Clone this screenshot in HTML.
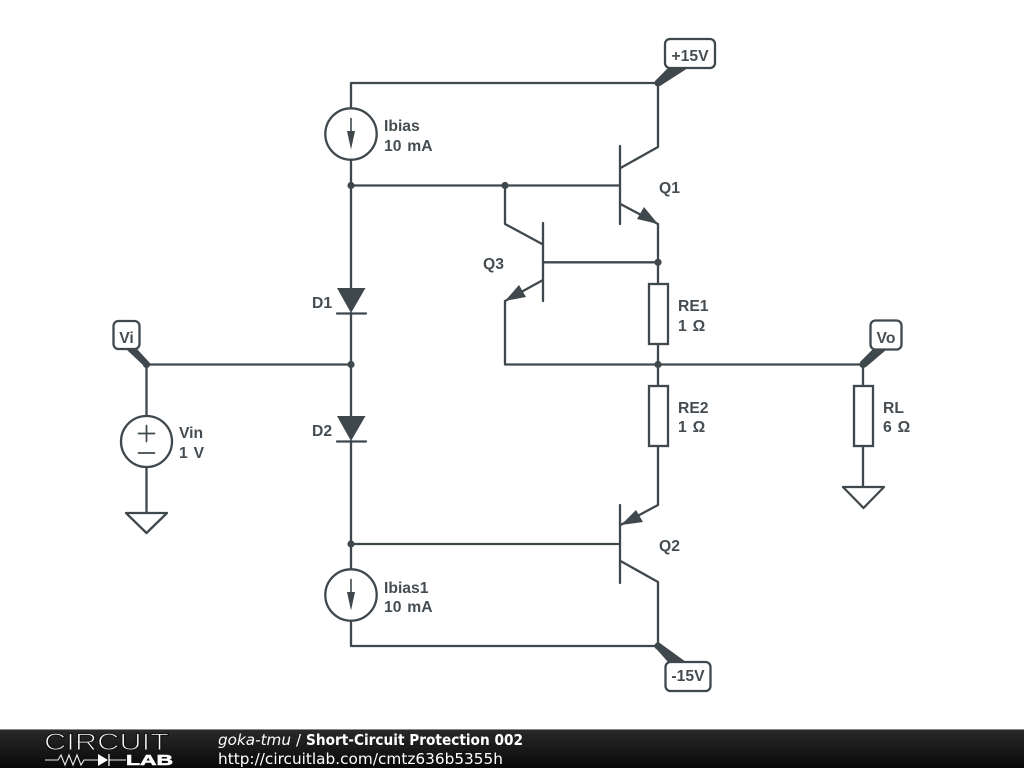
<!DOCTYPE html>
<html>
<head>
<meta charset="utf-8">
<style>
html,body{margin:0;padding:0;background:#fff;width:1024px;height:768px;overflow:hidden}
svg{display:block;position:absolute;left:0;top:0}
.w{fill:none;stroke:#3f484d;stroke-width:2.3;stroke-linecap:round;stroke-linejoin:round}
.f{fill:#3f484d;stroke:none}
.t{font-family:"Liberation Sans",sans-serif;font-size:15.7px;font-weight:bold;fill:#454d52;word-spacing:1.5px}
.c{text-anchor:middle}
.b{fill:#fff;stroke:#3f484d;stroke-width:2.3}
.d{font-family:"DejaVu Sans",sans-serif;font-size:15px;fill:#fff}
</style>
</head>
<body>
<svg width="1024" height="768" viewBox="0 0 1024 768" xmlns="http://www.w3.org/2000/svg">
<defs>
<linearGradient id="g" x1="0" y1="0" x2="0" y2="1"><stop offset="0" stop-color="#2a2a2a"/><stop offset="1" stop-color="#080808"/></linearGradient>
</defs>
<rect width="1024" height="768" fill="#fff"/>

<!-- wires -->
<path class="w" d="M351 83H658M351 83V108M351 160V288M351 313V416M351 441V569M351 621V646H658"/>
<path class="w" d="M351 185.500H620M505 185.500V224L543 244.500M543 262.300H658"/>
<path class="w" d="M658 83V147L620.500 168M620.500 204L658 224V284M658 344V386M658 446V505L620.500 525M620.500 561L658 582V646"/>
<path class="w" d="M620 544H351"/>
<path class="w" d="M543 280L505 301V364.500H863M146.500 364.500H351"/>
<path class="w" d="M146.500 364.500V416M146.500 467V513"/>
<path class="w" d="M863 364.500V386M863 446V487"/>

<!-- transistor bars -->
<path class="w" d="M620 146V224M543 223V301M620 505V583"/>
<!-- transistor arrows -->
<polygon class="f" points="658,224 637,219 644,207"/>
<polygon class="f" points="505,301 519,285 526,297"/>
<polygon class="f" points="621,525 636,510 643,522"/>

<!-- dots -->
<g class="f">
<circle cx="351" cy="185.500" r="3.600"/><circle cx="505" cy="185.500" r="3.600"/><circle cx="658" cy="262.300" r="3.600"/>
<circle cx="351" cy="364.500" r="3.600"/><circle cx="658" cy="364.500" r="3.600"/><circle cx="146.500" cy="364.500" r="3.600"/>
<circle cx="863" cy="364.500" r="3.600"/><circle cx="658" cy="83" r="3.600"/><circle cx="658" cy="646" r="3.600"/><circle cx="351" cy="544" r="3.600"/>
</g>

<!-- current sources -->
<circle class="w" cx="351" cy="134" r="25.700"/>
<path class="w" style="stroke-width:1.600" d="M351 118.500V135"/>
<polygon class="f" points="347,131 355,131 351,149.500"/>
<circle class="w" cx="351" cy="595" r="25.700"/>
<path class="w" style="stroke-width:1.600" d="M351 579.500V596"/>
<polygon class="f" points="347,592 355,592 351,610.500"/>

<!-- voltage source -->
<circle class="w" cx="146.500" cy="441.500" r="25.500"/>
<path class="w" style="stroke-width:1.700" d="M138.500 433.500H154.500M146.500 425.500V441.500M138.500 453H154.500"/>

<!-- grounds -->
<polygon class="w" points="126,513 167,513 146.500,533"/>
<polygon class="w" points="843,487 884,487 863.500,508"/>

<!-- diodes -->
<polygon class="f" points="337,288 365.500,288 351,313"/>
<path class="w" d="M337 313.500H366"/>
<polygon class="f" points="337,416 365.500,416 351,441"/>
<path class="w" d="M337 441.500H366"/>

<!-- resistors -->
<rect class="b" x="649" y="284" width="19" height="60"/>
<rect class="b" x="649" y="386" width="19" height="60"/>
<rect class="b" x="854" y="386" width="19" height="60"/>

<!-- net flags -->
<polygon class="f" points="656,80 660,86 688,68 668,68"/>
<rect class="b" x="665" y="39" width="50" height="29" rx="5"/>
<text class="t c" x="690" y="61">+15V</text>
<polygon class="f" points="144,366 149,362 137,349 126,349"/>
<rect class="b" x="113.500" y="321" width="26" height="28" rx="5"/>
<text class="t c" x="126.500" y="343">Vi</text>
<polygon class="f" points="860,362 866,367 886,350 872,350"/>
<rect class="b" x="870.500" y="320.500" width="31" height="29" rx="5"/>
<text class="t c" x="886" y="343">Vo</text>
<polygon class="f" points="655.500,648 660.500,643.500 686,662 668,662"/>
<rect class="b" x="665.500" y="662" width="45" height="29" rx="5"/>
<text class="t c" x="688" y="681">-15V</text>

<!-- labels -->
<text class="t" x="384" y="131">Ibias</text>
<text class="t" x="384" y="151">10 mA</text>
<text class="t" x="384" y="593">Ibias1</text>
<text class="t" x="384" y="612">10 mA</text>
<text class="t" x="659" y="193">Q1</text>
<text class="t" x="659" y="551">Q2</text>
<text class="t" x="483" y="269">Q3</text>
<text class="t" x="312" y="308">D1</text>
<text class="t" x="312" y="436">D2</text>
<text class="t" x="678" y="311">RE1</text>
<text class="t" x="678" y="331">1 Ω</text>
<text class="t" x="678" y="413">RE2</text>
<text class="t" x="678" y="432">1 Ω</text>
<text class="t" x="883" y="413">RL</text>
<text class="t" x="883" y="432">6 Ω</text>
<text class="t" x="179" y="438">Vin</text>
<text class="t" x="179" y="458">1 V</text>

<!-- footer -->
<rect x="0" y="729" width="1024" height="39" fill="url(#g)"/>
<rect x="0" y="729" width="1024" height="1" fill="#8a8a8a"/>
<text x="44" y="750" font-family="Liberation Sans, sans-serif" font-size="24" fill="#fff" stroke="#141414" stroke-width="1.100" textLength="125" lengthAdjust="spacingAndGlyphs">CIRCUIT</text>
<text x="126" y="765" font-family="Liberation Sans, sans-serif" font-size="15" font-weight="bold" fill="#fff" stroke="#fff" stroke-width="0.600" textLength="47" lengthAdjust="spacingAndGlyphs">LAB</text>
<path d="M45 760H58L61 755L65 765L69 755L73 765L77 755L81 765L84 760H98M109 760H126" fill="none" stroke="#eee" stroke-width="1.100"/>
<polygon points="98,754 98,766 108,760" fill="#fff"/>
<path d="M109 754V766" stroke="#fff" stroke-width="1.300" fill="none"/>
<text class="d" x="218" y="745" font-style="italic" textLength="73" lengthAdjust="spacingAndGlyphs">goka-tmu</text>
<text class="d" x="296" y="745">/</text>
<text class="d" x="306" y="745" font-weight="bold" textLength="217" lengthAdjust="spacingAndGlyphs">Short-Circuit Protection 002</text>
<text class="d" x="218" y="764" textLength="285" lengthAdjust="spacingAndGlyphs">http://circuitlab.com/cmtz636b5355h</text>
</svg>
</body>
</html>
